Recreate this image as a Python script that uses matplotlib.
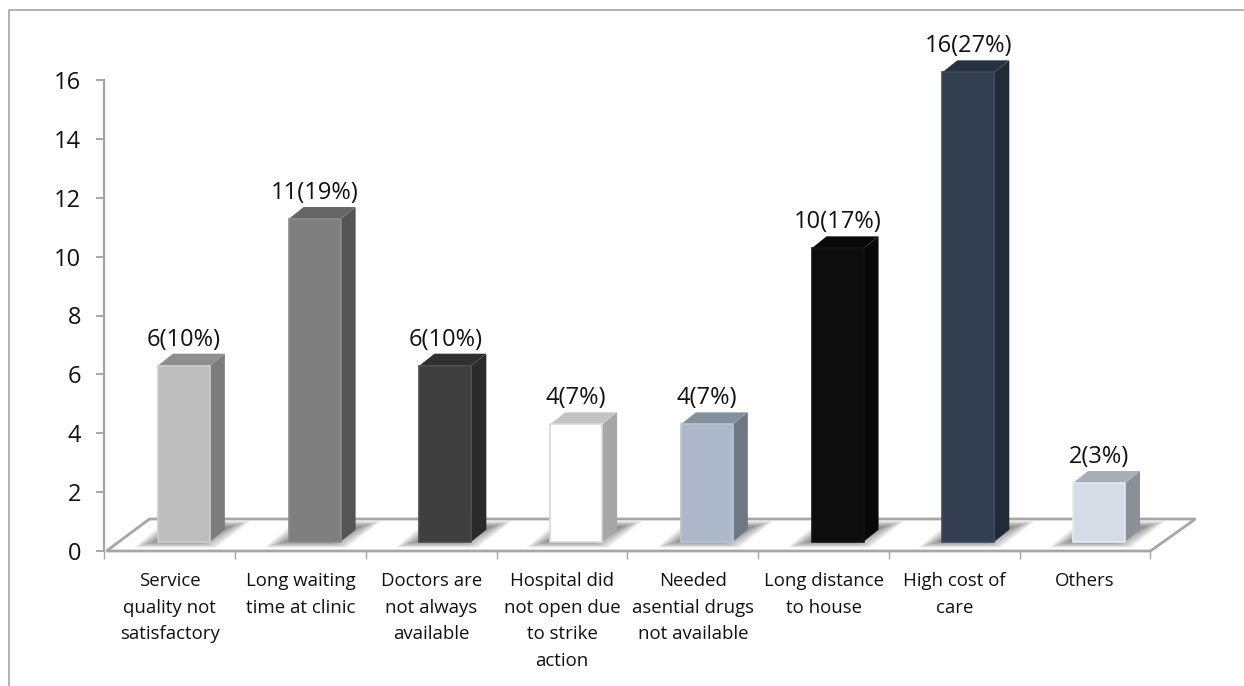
import matplotlib
matplotlib.use("Agg")
import matplotlib.pyplot as plt
from matplotlib.patches import Polygon

categories = ["Service\nquality not\nsatisfactory", "Long waiting\ntime at clinic",
              "Doctors are\nnot always\navailable", "Hospital did\nnot open due\nto strike\naction",
              "Needed\nasential drugs\nnot available", "Long distance\nto house",
              "High cost of\ncare", "Others"]
counts = [6, 11, 6, 4, 4, 10, 16, 2]
percents = [10, 19, 10, 7, 7, 17, 27, 3]
front_colors = ["#BDBDBD", "#7F7F7F", "#3F3F3F", "#FFFFFF", "#ADB9CA", "#0D0D0D", "#333F50", "#D6DCE5"]
side_colors = ["#7C7C7C", "#545454", "#2A2A2A", "#A6A6A6", "#6F7782", "#080808", "#222A35", "#8B8F96"]
top_colors = ["#8E8E8E", "#666666", "#303030", "#C4C4C4", "#85909E", "#0A0A0A", "#28323F", "#A8AEB8"]
edge_colors = ["#CDCDCD", "#8C8C8C", "#4A4A4A", "#D9D9D9", "#BAC5D5", "#141414", "#3C495C", "#E6EAF0"]
yticks = list(range(0, 17, 2))

W, H = 1244, 686
plt.rcParams['font.family'] = ['Open Sans', 'DejaVu Sans']
fig = plt.figure(figsize=(W / 100, H / 100), dpi=100)
fig.add_artist(plt.Line2D([8.5 / W, 8.5 / W, 1], [0, 1 - 9.5 / H, 1 - 9.5 / H], color="#A6A6A6", lw=1.2))

ax = fig.add_axes([104.5 / W, (H - 551) / H, 1045.9 / W, 471 / H])
ax.set_xlim(0, 8)
ax.set_ylim(0, 16)
ux = 1045.9 / 8  # px per x unit
uy = 471 / 16    # px per y unit


def px(dx):
    return dx / ux


def py(dy):
    return dy / uy


GRAY = "#A6A6A6"
for s in ("top", "right", "bottom"):
    ax.spines[s].set_visible(False)
ax.spines["left"].set_color(GRAY)
ax.spines["left"].set_linewidth(1.6)

# floor
ax.add_patch(Polygon([(px(2), 0), (8, 0), (8 + px(45), py(32)), (px(45), py(32))], closed=True,
                     facecolor="white", edgecolor=GRAY, lw=2, clip_on=False, zorder=1, joinstyle="miter"))

base = py(9.3)
offset = px(14)
bw = px(52)
depth_x, depth_y = px(15), py(12)

for i, v in enumerate(counts):
    x0 = i + 0.5 + offset - bw / 2
    x1 = x0 + bw
    y0 = base
    y1 = base + v * 0.9965
    # blurred shadow on the floor
    n = 22
    for k in range(n):
        g = n - k - 4
        ax.add_patch(Polygon([(x0 - px(21) + px(g), y0 - py(5) + py(g * 0.3)),
                              (x1 + px(4) - px(g), y0 - py(5) + py(g * 0.3)),
                              (x1 + px(38) - px(g), y0 + py(20) - py(g * 0.3)),
                              (x0 + px(10) + px(g), y0 + py(20) - py(g * 0.3))],
                             closed=True, facecolor="#5A5A5A", edgecolor="none", alpha=0.045,
                             clip_on=False, zorder=2))
    # side and top faces
    ax.add_patch(Polygon([(x1, y0), (x1 + depth_x, y0 + depth_y), (x1 + depth_x, y1 + depth_y), (x1, y1)],
                         closed=True, facecolor=side_colors[i], edgecolor="none", clip_on=False, zorder=3))
    ax.add_patch(Polygon([(x0, y1), (x1, y1), (x1 + depth_x, y1 + depth_y), (x0 + depth_x, y1 + depth_y)],
                         closed=True, facecolor=top_colors[i], edgecolor="none", clip_on=False, zorder=3))
    # front face
    ax.bar(i + 0.5 + offset, v * 0.9965, width=bw, bottom=base, color=front_colors[i],
           edgecolor=edge_colors[i], linewidth=1.2, clip_on=False, zorder=4)
    ax.text(i + 0.5 + offset, y1 + py(12) + py(14), f"{v}({percents[i]}%)", ha="center", va="center",
            fontsize=17, color="#111111", zorder=5)

ax.set_yticks(yticks)
ax.set_xticks(range(9))
ax.set_xticklabels([])
ax.set_xticks([i + 0.5 for i in range(8)], minor=True)
ax.set_xticklabels(categories, minor=True, fontsize=13.4, color="#111111", linespacing=1.62, va="top")
ax.tick_params(axis="x", which="major", length=5.5, width=1.0, color=GRAY)
ax.tick_params(axis="x", which="minor", length=0, pad=15)
ax.tick_params(axis="y", length=5.8, width=1.4, color=GRAY, labelsize=17, labelcolor="#111111", pad=11)

fig.savefig("out.png", dpi=100)
